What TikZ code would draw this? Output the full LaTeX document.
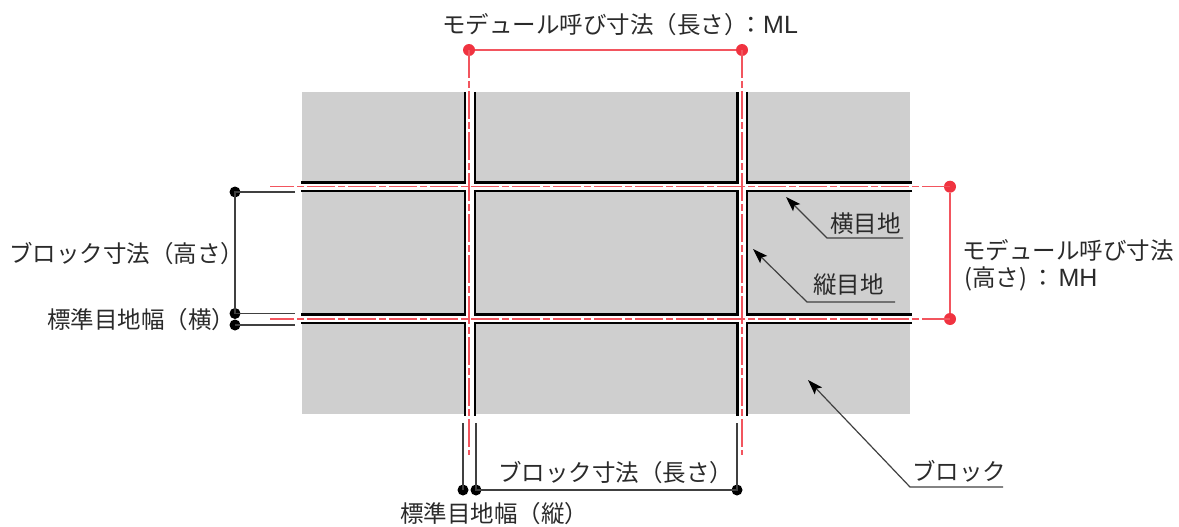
\documentclass[tikz,border=0pt]{standalone}
\usepackage{fontspec}
\setmainfont{Noto Sans CJK JP}
\newfontfamily\latinfont{Liberation Sans}
\usetikzlibrary{arrows.meta}
\definecolor{blockgray}{HTML}{CFCFCF}
\definecolor{reddotc}{HTML}{F03340}
\definecolor{redline}{HTML}{F2555E}
\definecolor{txt}{HTML}{2A2A2A}
\tikzset{
  x=1pt,y=-1pt,
  joint/.style={line width=2.8pt,black,line join=miter},
  center/.style={line width=1.2pt,redline,dash pattern=on 28pt off 3pt on 7pt off 3pt},
  mod/.style={line width=1.3pt,redline},
  dim/.style={line width=1.3pt,black!75},
  lead/.style={line width=1.2pt,black!75},
  arr/.style={lead,-{Stealth[length=15pt,width=10pt,inset=3pt,color=black]}},
  lbl/.style={font=\fontsize{23.5pt}{26pt}\selectfont,text=txt,inner sep=0pt,anchor=west},
  reddot/.style={circle,fill=reddotc,inner sep=0pt,minimum size=12pt},
  blackdot/.style={circle,fill=black,inner sep=0pt,minimum size=11pt},
}
\newcommand{\latintext}[1]{{\latinfont\fontsize{25pt}{26pt}\selectfont #1}}
\begin{document}
\begin{tikzpicture}
\useasboundingbox (0,0) rectangle (1179,527);
% grey wall and white joints
\fill[blockgray] (302,92) rectangle (910,414);
\fill[white] (465,92) rectangle (475,414);
\fill[white] (737.5,92) rectangle (747,414);
\fill[white] (302,182.5) rectangle (910,191);
\fill[white] (302,314.5) rectangle (910,323);
% block edges
\draw[joint] (465,92) -- (465,182.5) -- (301,182.5);
\draw[joint] (475,92) -- (475,182.5) -- (737.5,182.5) -- (737.5,92);
\draw[joint] (747,92) -- (747,182.5) -- (912,182.5);
\draw[joint] (301,191) -- (465,191) -- (465,314.5) -- (301,314.5);
\draw[joint] (475,191) rectangle (737.5,314.5);
\draw[joint] (912,191) -- (747,191) -- (747,314.5) -- (912,314.5);
\draw[joint] (301,323) -- (465,323) -- (465,415.5);
\draw[joint] (475,415.5) -- (475,323) -- (737.5,323) -- (737.5,415.5);
\draw[joint] (747,415.5) -- (747,323) -- (912,323);
% red module lines
\node[reddot] (mlA) at (469,50) {};
\node[reddot] (mlB) at (742,50) {};
\node[reddot] (mhA) at (950,186.7) {};
\node[reddot] (mhB) at (950,319) {};
\coordinate (vA) at (469,455);
\coordinate (vB) at (742,455);
\coordinate (hA) at (270,186.7);
\coordinate (hB) at (270,319);
\draw[center] (mlA.center) -- (vA);
\draw[center] (mlB.center) -- (vB);
\draw[center] (mhA.center) -- (hA);
\draw[center] (mhB.center) -- (hB);
\draw[mod] (mlA) -- (mlB);
\draw[mod] (mhA) -- (mhB);
% black dimension lines: left
\node[blackdot] (bhA) at (235,192) {};
\node[blackdot] (bhB) at (235,313.5) {};
\node[blackdot] (bhC) at (235,325) {};
\coordinate (bhAe) at (295,192);
\coordinate (bhBe) at (295,313.5);
\coordinate (bhCe) at (295,325);
\draw[dim] (bhAe) -- (bhA.center) -- (bhB.center) -- (bhBe);
\draw[dim] (bhC.center) -- (bhCe);
% black dimension lines: bottom
\node[blackdot] (blA) at (463,490) {};
\node[blackdot] (blB) at (476,490) {};
\node[blackdot] (blC) at (737,490) {};
\coordinate (blAe) at (463,423);
\coordinate (blBe) at (476,423);
\coordinate (blCe) at (737,423);
\draw[dim] (blAe) -- (blA.center);
\draw[dim] (blBe) -- (blB.center) -- (blC.center) -- (blCe);
% labels
\node[lbl] (t1) at (442,25) {モデュール呼び寸法（長さ）\hspace{-8pt}：\latintext{ML}};
\node[lbl] (t2) at (9,254) {ブロック寸法（高さ）};
\node[lbl] (t3) at (47,320) {標準目地幅（横）};
\node[lbl] (t4) at (498,473) {ブロック寸法（長さ）};
\node[lbl] (t5) at (400,514) {標準目地幅（縦）};
\node[lbl] (t6) at (962,250) {モデュール呼び寸法};
\node[lbl] (t7) at (964,279) {(高さ)\hspace{4pt}：\hspace{4pt}\latintext{MH}};
\node[lbl] (t8) at (830,224) {横目地};
\node[lbl] (t9) at (813,285) {縦目地};
\node[lbl] (t10) at (912,471) {ブロック};
% leaders
\coordinate (a1) at (786,197); \coordinate (a1m) at (827,238); \coordinate (a1e) at (903,238);
\coordinate (a2) at (753,249); \coordinate (a2m) at (807,302); \coordinate (a2e) at (895,302);
\coordinate (a3) at (808,380); \coordinate (a3m) at (910,487); \coordinate (a3e) at (1003,487);
\draw[arr] (a1e) -- (a1m) -- (a1);
\draw[arr] (a2e) -- (a2m) -- (a2);
\draw[arr] (a3e) -- (a3m) -- (a3);
\end{tikzpicture}
\end{document}
